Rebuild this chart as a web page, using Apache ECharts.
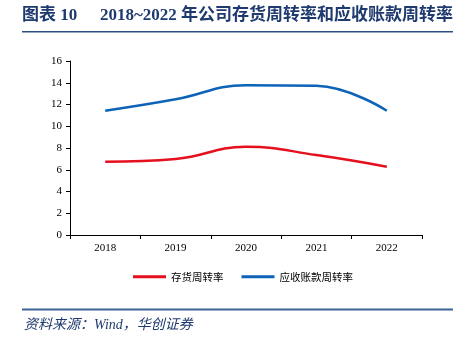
<!DOCTYPE html>
<html><head><meta charset="utf-8">
<script src="https://cdn.jsdelivr.net/npm/echarts@6/dist/echarts.min.js"></script>
<style>html,body{margin:0;padding:0;background:#fff}#c{width:457px;height:342px}</style>
</head><body><div id="c"></div>
<script>
var years = ['2018','2019','2020','2021','2022'];
var inventoryTurnover = [6.74, 6.99, 8.12, 7.35, 6.28];
var receivableTurnover = [11.43, 12.48, 13.78, 13.72, 11.43];
var yTicks = [0, 2, 4, 6, 8, 10, 12, 14, 16];
var titleLabel = '图表 10';
var titleText = '2018~2022 年公司存货周转率和应收账款周转率';
var sourceText = '资料来源：Wind，华创证券';
var seriesNames = ['存货周转率', '应收账款周转率'];

var serif = '"Liberation Serif","Noto Sans CJK SC",serif';
var chart = echarts.init(document.getElementById('c'), null, {renderer: 'canvas'});
chart.setOption({
  animation: false,
  backgroundColor: '#fff',
  grid: {left: 70, right: 35, top: 61, bottom: 107},
  xAxis: {
    type: 'category', data: years, boundaryGap: true,
    axisLine: {lineStyle: {color: '#000', width: 1}},
    axisTick: {show: true, length: 4, inside: false, lineStyle: {color: '#000'}},
    axisLabel: {color: '#000', fontFamily: serif, fontSize: 11, margin: 8}
  },
  yAxis: {
    type: 'value', min: yTicks[0], max: yTicks[yTicks.length-1], interval: 2,
    axisLine: {show: true, lineStyle: {color: '#000', width: 1}},
    axisTick: {show: true, length: 4, lineStyle: {color: '#000'}},
    splitLine: {show: false},
    axisLabel: {color: '#000', fontFamily: serif, fontSize: 11, margin: 8}
  },
  legend: {
    bottom: 55, left: 128, itemGap: 18, itemWidth: 33, itemHeight: 3,
    icon: 'rect',
    textStyle: {fontFamily: '"Noto Sans CJK SC",sans-serif', fontSize: 10.5, color: '#000'},
    data: seriesNames
  },
  series: [
    {name: seriesNames[0], type: 'line', data: inventoryTurnover, smooth: 0.45, showSymbol: false,
     lineStyle: {color: '#e60f1e', width: 2.5}, itemStyle: {color: '#e60f1e'}},
    {name: seriesNames[1], type: 'line', data: receivableTurnover, smooth: 0.45, showSymbol: false,
     lineStyle: {color: '#0d63b8', width: 2.5}, itemStyle: {color: '#0d63b8'}}
  ],
  graphic: [
    {type: 'text', left: 22, top: 7, style: {text: titleLabel, fill: '#1f3a6e',
      font: 'bold 17px "Liberation Serif","Noto Sans CJK SC",serif'}},
    {type: 'text', left: 100, top: 7, style: {text: titleText, fill: '#1f3a6e',
      font: 'bold 17px "Liberation Serif","Noto Sans CJK SC",serif'}},
    {type: 'rect', shape: {x: 22, y: 31, width: 431, height: 1.5}, style: {fill: '#2b4f83'}},
    {type: 'rect', shape: {x: 22, y: 308.5, width: 431, height: 2}, style: {fill: '#3a6395'}},
    {type: 'text', left: 24, top: 318, style: {text: sourceText, fill: '#1f3a6e',
      font: 'italic 14px "Liberation Serif","Noto Sans CJK SC",serif'}}
  ]
});
</script></body></html>
